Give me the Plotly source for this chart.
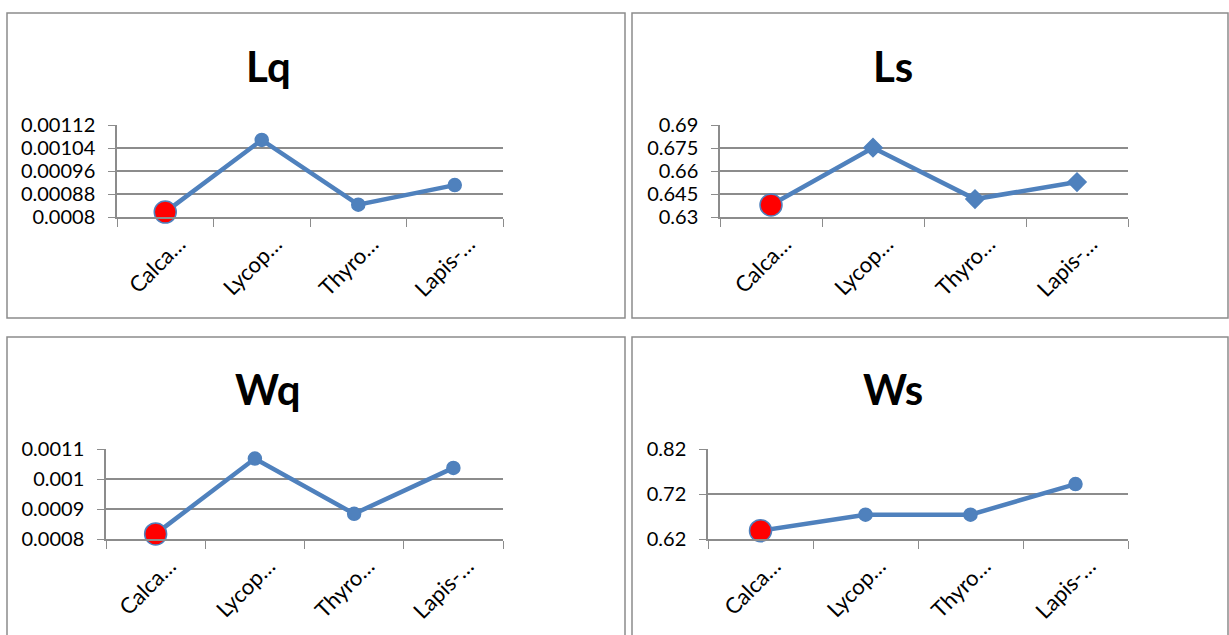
import plotly.graph_objects as go

# ---- data ----
categories = ["Calca…", "Lycop…", "Thyro…", "Lapis-…"]

lq_values = [0.000817, 0.001068, 0.000843, 0.000911]
ls_values = [0.6378, 0.6752, 0.6417, 0.6528]
wq_values = [0.000817, 0.001068, 0.000884, 0.001037]
ws_values = [0.6385, 0.674, 0.674, 0.742]

lq_tickvals = [0.0008, 0.00088, 0.00096, 0.00104, 0.00112]
lq_ticktext = ["0.0008", "0.00088", "0.00096", "0.00104", "0.00112"]
ls_tickvals = [0.63, 0.645, 0.66, 0.675, 0.69]
ls_ticktext = ["0.63", "0.645", "0.66", "0.675", "0.69"]
wq_tickvals = [0.0008, 0.0009, 0.001, 0.0011]
wq_ticktext = ["0.0008", "0.0009", "0.001", "0.0011"]
ws_tickvals = [0.62, 0.72, 0.82]
ws_ticktext = ["0.62", "0.72", "0.82"]

titles = ["Lq", "Ls", "Wq", "Ws"]

# ---- layout helpers ----
W, H = 1229, 635
def fx(p): return p / W
def fy(p): return 1 - p / H

BLUE = "#4F81BD"
GRID = "#8C8C8C"
FONT = "Lato"

panels = [
    dict(title=titles[0], vals=lq_values, tv=lq_tickvals, tt=lq_ticktext,
         box=(117, 503, 125, 217), tpos=(268, 66), sym="circle",
         frame=(7, 625, 13, 318)),
    dict(title=titles[1], vals=ls_values, tv=ls_tickvals, tt=ls_ticktext,
         box=(720, 1128, 125, 217), tpos=(893, 66), sym="diamond",
         frame=(632, 1228, 13, 318)),
    dict(title=titles[2], vals=wq_values, tv=wq_tickvals, tt=wq_ticktext,
         box=(106, 503, 449, 539), tpos=(268, 389), sym="circle",
         frame=(7, 625, 337, 645)),
    dict(title=titles[3], vals=ws_values, tv=ws_tickvals, tt=ws_ticktext,
         box=(708, 1128, 449, 539), tpos=(893, 389), sym="circle",
         frame=(632, 1228, 337, 645)),
]

fig = go.Figure()
layout = dict(
    width=W, height=H, margin=dict(l=0, r=0, t=0, b=0, autoexpand=False),
    autosize=False,
    paper_bgcolor="white", plot_bgcolor="white", showlegend=False,
    font=dict(family=FONT, color="black"),
    shapes=[], annotations=[],
)

for i, p in enumerate(panels):
    n = i + 1
    xa = "x" if n == 1 else f"x{n}"
    ya = "y" if n == 1 else f"y{n}"
    sym = p["sym"]
    fig.add_trace(go.Scatter(
        x=categories, y=p["vals"], xaxis=xa, yaxis=ya,
        mode="lines+markers", cliponaxis=False,
        line=dict(color=BLUE, width=4.5),
        marker=dict(
            color=["#FF0000", BLUE, BLUE, BLUE],
            size=[22, 13, 13, 13] if sym == "circle" else [22, 14, 14, 14],
            symbol=["circle", sym, sym, sym],
            line=dict(color=BLUE, width=1.5),
            opacity=1,
        ),
        hoverinfo="x+y",
    ))
    x0, x1, y0, y1 = p["box"]
    layout["xaxis" if n == 1 else f"xaxis{n}"] = dict(
        domain=[fx(x0), fx(x1)], anchor=ya,
        type="category", range=[-0.5, 3.5],
        tickson="boundaries", ticks="outside", ticklen=8, tickcolor=GRID,
        showline=True, linecolor=GRID, linewidth=1.5,
        showgrid=False, tickangle=-45, automargin=False,
        tickfont=dict(family=FONT, size=22, color="black"),
        ticklabelstandoff=4, ticklabelshift=14,
        fixedrange=True,
    )
    lo, hi = p["tv"][0], p["tv"][-1]
    layout["yaxis" if n == 1 else f"yaxis{n}"] = dict(
        domain=[fy(y1), fy(y0)], anchor=xa,
        range=[lo, hi], tickvals=p["tv"], ticktext=p["tt"],
        ticks="outside", ticklen=7, tickcolor=GRID,
        showline=True, linecolor=GRID, linewidth=1.5,
        showgrid=True, gridcolor=GRID, gridwidth=1.5, zeroline=False,
        automargin=False,
        tickfont=dict(family=FONT, size=20, color="black"),
        ticklabelstandoff=9,
        fixedrange=True,
    )
    fx0, fx1, fy0, fy1 = p["frame"]
    layout["shapes"].append(dict(
        type="rect", xref="paper", yref="paper",
        x0=fx(fx0), x1=fx(fx1), y0=fy(fy1), y1=fy(fy0),
        line=dict(color="#8C8C8C", width=1.5), fillcolor="rgba(0,0,0,0)",
        layer="below",
    ))
    tx, ty = p["tpos"]
    layout["annotations"].append(dict(
        text=f"<b>{p['title']}</b>", xref="paper", yref="paper",
        x=fx(tx), y=fy(ty), xanchor="center", yanchor="middle",
        showarrow=False, font=dict(family=FONT, size=42, color="black"),
    ))

fig.update_layout(**layout)
fig.write_html("out.html",
               config={"displayModeBar": False},
               post_script="document.body.style.margin='0px';document.body.style.overflow='hidden';")
